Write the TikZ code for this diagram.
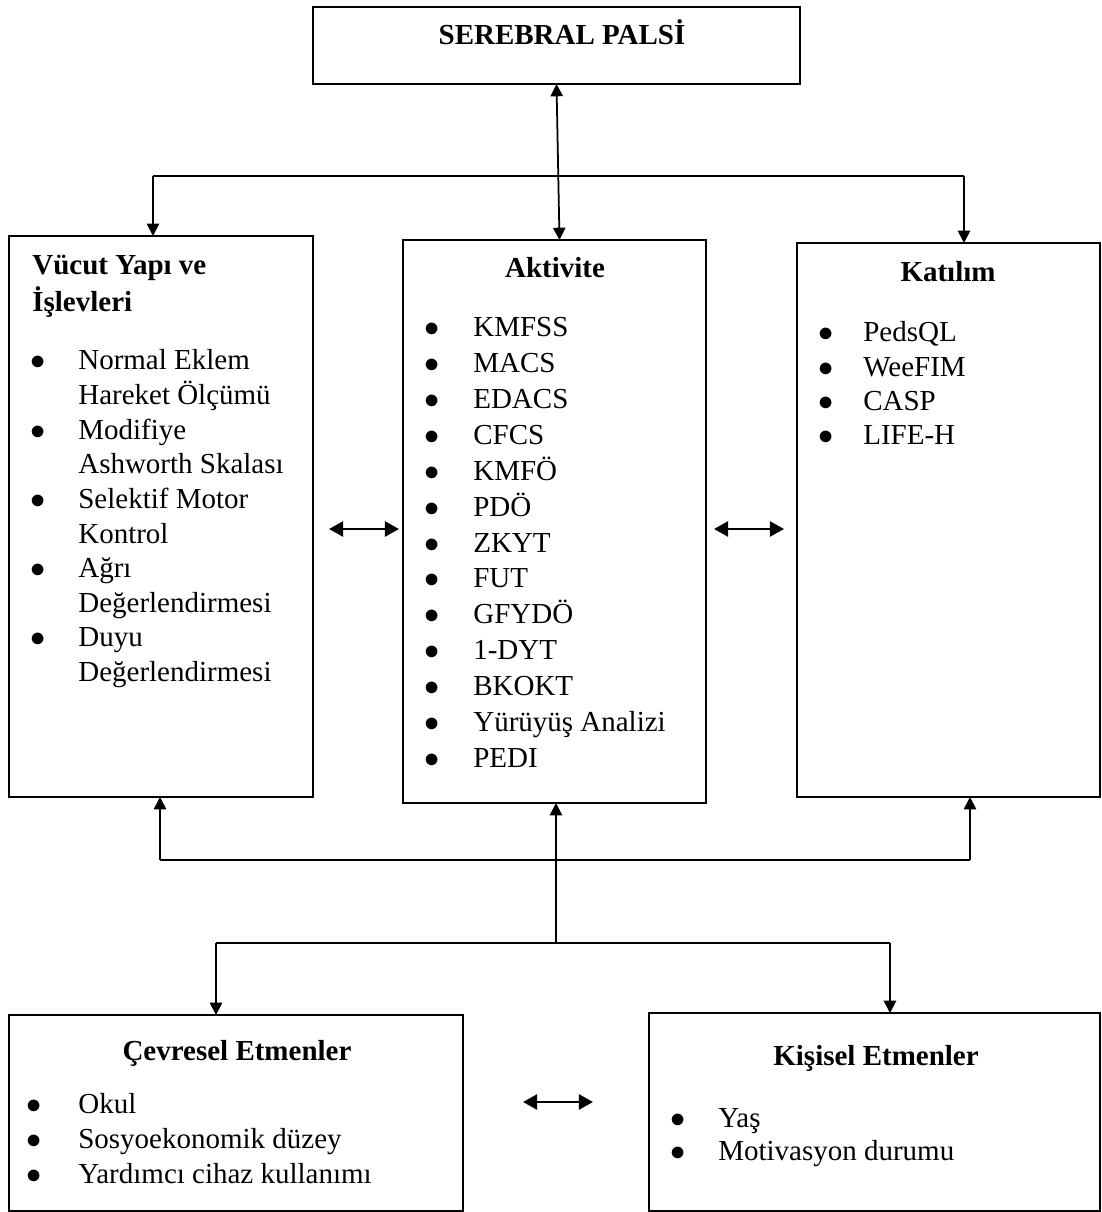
\documentclass[tikz,border=0pt]{standalone}
\usepackage{fontspec}
\setmainfont{Liberation Serif}
\usetikzlibrary{arrows.meta,fit}
\newcommand{\bulletlist}[3]{\fontsize{16.5}{#1}\selectfont
  \begin{tabular}[t]{@{}p{#2}@{}l@{}}#3\end{tabular}}
\newcommand{\dotmark}{$\bullet$}
\begin{document}
\begin{tikzpicture}[x=0.02cm,y=-0.02cm,
  boxframe/.style={draw,line width=1.1pt,inner sep=0pt,outer sep=0pt},
  titletext/.style={inner sep=0pt,anchor=base,font=\fontsize{16.5}{20}\selectfont\bfseries},
  listtext/.style={inner sep=0pt,anchor=base west},
  busline/.style={line width=0.6pt},
  downarrow/.style={line width=1pt,-{Triangle[length=7pt,width=7pt]}},
  twoway/.style={line width=1pt,{Triangle[length=7pt,width=7pt]}-{Triangle[length=7pt,width=7pt]}},
  sidearrow/.style={line width=1.5pt,{Triangle[length=8pt,width=8.5pt]}-{Triangle[length=8pt,width=8.5pt]}}]
  \useasboundingbox (0,0) rectangle (1101,1212);
  % boxes
  \node [boxframe,fit={(313,7) (800,84)}] (palsi) {};
  \node [boxframe,fit={(9,236) (313,797)}] (vucut) {};
  \node [boxframe,fit={(403,240) (706,803)}] (aktivite) {};
  \node [boxframe,fit={(797,243) (1100,797)}] (katilim) {};
  \node [boxframe,fit={(9,1015) (463,1211)}] (cevre) {};
  \node [boxframe,fit={(649,1013) (1100,1211)}] (kisi) {};
  % titles
  \node [titletext] (palsititle) at (562,45) {SEREBRAL PALS\.I};
  \node [titletext,anchor=base west] (vucuttitle) at (32,275) {Vücut Yapı ve};
  \node [titletext,anchor=base west] (vucuttitleb) at (32,312) {İşlevleri};
  \node [titletext] (aktivitetitle) at (555,278) {Aktivite};
  \node [titletext] (katilimtitle) at (948,282) {Katılım};
  \node [titletext] (cevretitle) at (237,1060) {Çevresel Etmenler};
  \node [titletext] (kisititle) at (876,1065) {Kişisel Etmenler};
  % lists
  \node [listtext] (vucutlist) at (30,370) {\bulletlist{19.7pt}{0.96cm}{%
    \dotmark & Normal Eklem\\
             & Hareket Ölçümü\\
    \dotmark & Modifiye\\
             & Ashworth Skalası\\
    \dotmark & Selektif Motor\\
             & Kontrol\\
    \dotmark & Ağrı\\
             & Değerlendirmesi\\
    \dotmark & Duyu\\
             & Değerlendirmesi}};
  \node [listtext] (aktivitelist) at (424,337) {\bulletlist{20.4pt}{0.98cm}{%
    \dotmark & KMFSS\\
    \dotmark & MACS\\
    \dotmark & EDACS\\
    \dotmark & CFCS\\
    \dotmark & KMFÖ\\
    \dotmark & PDÖ\\
    \dotmark & ZKYT\\
    \dotmark & FUT\\
    \dotmark & GFYDÖ\\
    \dotmark & 1-DYT\\
    \dotmark & BKOKT\\
    \dotmark & Yürüyüş Analizi\\
    \dotmark & PEDI}};
  \node [listtext] (katilimlist) at (818,342) {\bulletlist{19.5pt}{0.9cm}{%
    \dotmark & PedsQL\\
    \dotmark & WeeFIM\\
    \dotmark & CASP\\
    \dotmark & LIFE-H}};
  \node [listtext] (cevrelist) at (26,1113) {\bulletlist{20pt}{1.04cm}{%
    \dotmark & Okul\\
    \dotmark & Sosyoekonomik düzey\\
    \dotmark & Yardımcı cihaz kullanımı}};
  \node [listtext] (kisilist) at (670,1127) {\bulletlist{18.8pt}{0.96cm}{%
    \dotmark & Yaş\\
    \dotmark & Motivasyon durumu}};
  % connectors
  \coordinate (topL) at (153,176);
  \coordinate (topR) at (964,176);
  \draw [busline] (topL) -- (topR);
  \draw [downarrow] (topL) -- (topL |- vucut.north);
  \draw [downarrow] (topR) -- (topR |- katilim.north);
  \draw [twoway] (palsi.south) -- ([xshift=0.1cm]aktivite.north);
  \coordinate (midL) at (160,860);
  \coordinate (midR) at (970,860);
  \draw [busline] (midL) -- (midR);
  \draw [downarrow] (midL) -- (midL |- vucut.south);
  \draw [downarrow] (midR) -- (midR |- katilim.south);
  \coordinate (lowC) at (556,943);
  \coordinate (lowL) at (216,943);
  \coordinate (lowR) at (890,943);
  \draw [downarrow] (lowC) -- (lowC |- aktivite.south);
  \draw [busline] (lowL) -- (lowR);
  \draw [downarrow] (lowL) -- (lowL |- cevre.north);
  \draw [downarrow] (lowR) -- (lowR |- kisi.north);
  \coordinate (sideLa) at (329,529);
  \coordinate (sideLb) at (399,529);
  \coordinate (sideRa) at (714,529);
  \coordinate (sideRb) at (784,529);
  \coordinate (sideBa) at (523,1102);
  \coordinate (sideBb) at (593,1102);
  \draw [sidearrow] (sideLa) -- (sideLb);
  \draw [sidearrow] (sideRa) -- (sideRb);
  \draw [sidearrow] (sideBa) -- (sideBb);
\end{tikzpicture}
\end{document}
